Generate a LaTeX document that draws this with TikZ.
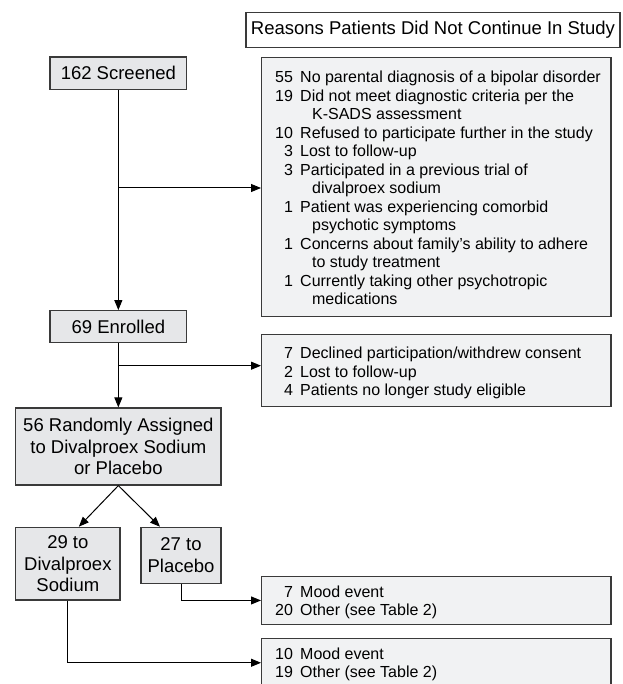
\documentclass[tikz,border=0pt]{standalone}
\usepackage{fontspec}
\setmainfont{Liberation Sans}
\usetikzlibrary{arrows.meta,calc}
\definecolor{lboxfill}{HTML}{E6E7E9}
\definecolor{rboxfill}{HTML}{F1F2F3}
\definecolor{edgecol}{HTML}{3A3A3A}
\newcommand{\rline}[2]{\makebox[17.8pt][r]{#1}\hspace{7.2pt}#2}
\newcommand{\rcont}[1]{\hspace{36.9pt}#1}
\tikzset{
  lbox/.style={draw=edgecol, line width=1.2pt, fill=lboxfill, inner sep=0pt, align=center,
    font=\fontsize{18.5pt}{21.5pt}\selectfont},
  rbox/.style={draw=edgecol, line width=1.2pt, fill=rboxfill, inner sep=0pt, anchor=north west,
    minimum width=349.3pt},
  tbox/.style={draw=edgecol, line width=1.2pt, fill=white, inner sep=0pt,
    font=\fontsize{18.5pt}{21.5pt}\selectfont},
  rtext/.style={inner sep=0pt, anchor=base west, font=\fontsize{16pt}{18.5pt}\selectfont},
  conn/.style={draw=black, line width=1pt, -{Triangle[length=10pt,width=8pt]}},
  plainline/.style={draw=black, line width=1pt}
}
\begin{document}
\begin{tikzpicture}[x=1pt,y=-1pt]
\useasboundingbox (0,0) rectangle (622,684);
\clip (0,0) rectangle (622,684);
% title
\node[tbox, minimum width=374pt, minimum height=35.4pt] (title) at (433,30) {Reasons Patients Did Not Continue In Study};
% left column
\node[lbox, minimum width=136.7pt, minimum height=32.3pt] (scr) at (118.35,73.15) {162 Screened};
\node[lbox, minimum width=136.7pt, minimum height=32pt] (enr) at (118.35,326.7) {69 Enrolled};
\node[lbox, minimum width=205.3pt, minimum height=77pt] (ran) at (118.35,446.5) {56 Randomly Assigned\\to Divalproex Sodium\\or Placebo};
\node[lbox, minimum width=104.3pt, minimum height=72.7pt] (div) at (67.85,563.65) {29 to\\Divalproex\\Sodium};
\node[lbox, minimum width=80pt, minimum height=56pt] (pla) at (181,555.3) {27 to\\Placebo};
% right column boxes
\node[rbox, minimum height=258.7pt] (r1) at (261,57.3) {};
\node[rbox, minimum height=72pt] (r2) at (261,334) {};
\node[rbox, minimum height=48.3pt] (r3) at (261,575.7) {};
\node[rbox, minimum height=48.3pt] (r4) at (261,638) {};
% right column texts
\node[rtext] (r1t) at (275,82.7) {\begin{tabular}[t]{@{}l@{}}
\rline{55}{No parental diagnosis of a bipolar disorder}\\
\rline{19}{Did not meet diagnostic criteria per the}\\
\rcont{K-SADS assessment}\\
\rline{10}{Refused to participate further in the study}\\
\rline{3}{Lost to follow-up}\\
\rline{3}{Participated in a previous trial of}\\
\rcont{divalproex sodium}\\
\rline{1}{Patient was experiencing comorbid}\\
\rcont{psychotic symptoms}\\
\rline{1}{Concerns about family’s ability to adhere}\\
\rcont{to study treatment}\\
\rline{1}{Currently taking other psychotropic}\\
\rcont{medications}
\end{tabular}};
\node[rtext] (r2t) at (275,358.5) {\begin{tabular}[t]{@{}l@{}}
\rline{7}{Declined participation/withdrew consent}\\
\rline{2}{Lost to follow-up}\\
\rline{4}{Patients no longer study eligible}
\end{tabular}};
\node[rtext] (r3t) at (275,597.3) {\begin{tabular}[t]{@{}l@{}}
\rline{7}{Mood event}\\
\rline{20}{Other (see Table 2)}
\end{tabular}};
\node[rtext] (r4t) at (275,659) {\begin{tabular}[t]{@{}l@{}}
\rline{10}{Mood event}\\
\rline{19}{Other (see Table 2)}
\end{tabular}};
% connectors
\draw[conn] (scr.south) -- (enr.north);
\coordinate (b1) at (118.35,188);
\draw[conn] (b1) -- (b1 -| r1.west);
\draw[conn] (enr.south) -- (ran.north);
\coordinate (b2) at (118.35,365.7);
\draw[conn] (b2) -- (b2 -| r2.west);
\draw[conn] (ran.south) -- ($(div.north)+(11,0)$);
\draw[conn] (ran.south) -- ($(pla.north)+(-21,0)$);
\draw[conn] (pla.south) |- (r3.west);
\draw[conn] (div.south) |- (r4.west);
\end{tikzpicture}
\end{document}
